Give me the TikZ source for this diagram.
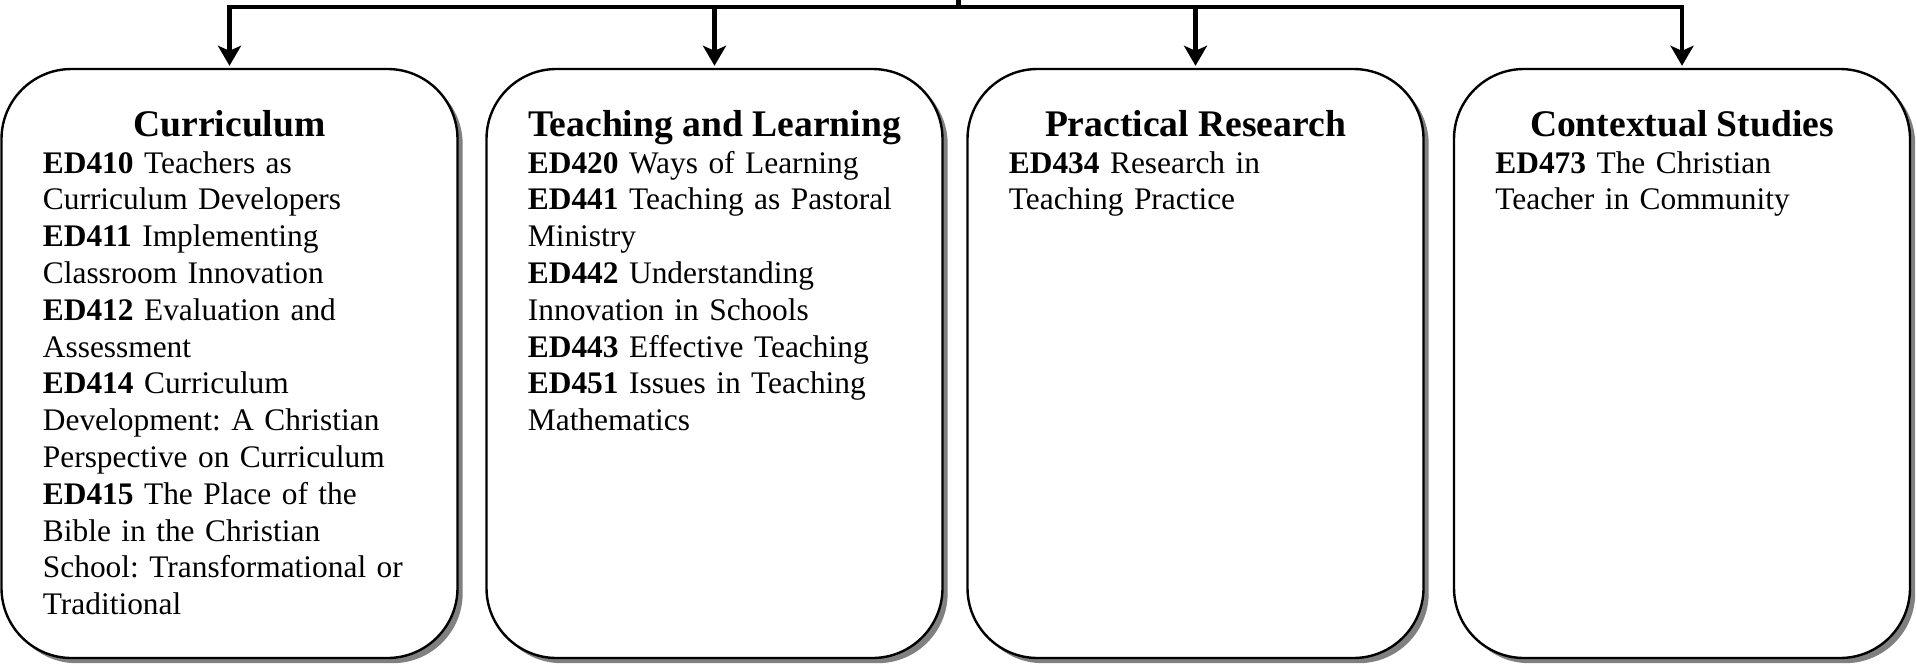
\documentclass[tikz,border=0pt]{standalone}
\usepackage{fontspec}
\setmainfont{Liberation Serif}
\frenchspacing
\usetikzlibrary{arrows.meta,shadows}
\tikzset{
  course/.style={draw=black, line width=1.2pt, fill=white, rounded corners=35pt,
    minimum width=228pt, minimum height=294.5pt, inner sep=0pt,
    drop shadow={shadow xshift=2.6pt, shadow yshift=-2.6pt, fill=black!50, opacity=1}},
  headtxt/.style={anchor=base, inner sep=0pt, font=\fontsize{18.8pt}{21pt}\selectfont\bfseries},
  bodytxt/.style={anchor=base west, inner sep=0pt, text width=200pt, align=left,
    font=\fontsize{15.7pt}{18.4pt}\selectfont\frenchspacing},
  conn/.style={line width=2.1pt},
  arr/.style={conn, -{Stealth[length=10pt,width=11.5pt,inset=2.5pt]}, shorten >=1pt}
}
\begin{document}
\begin{tikzpicture}[x=0.5pt,y=-0.5pt]
\useasboundingbox (0,0) rectangle (1917,665);

\node[course] (b1) at (229.5,363.5) {};
\node[course] (b2) at (714.5,363.5) {};
\node[course] (b3) at (1195.5,363.5) {};
\node[course] (b4) at (1682,363.5) {};

\node[headtxt] (h1) at (229.5,136) {Curriculum};
\node[headtxt] (h2) at (714.5,136) {Teaching and Learning};
\node[headtxt] (h3) at (1195.5,136) {Practical Research};
\node[headtxt] (h4) at (1682,136) {Contextual Studies};

\node[bodytxt] (t1) at (42.5,173) {\textbf{ED410} Teachers as\\Curriculum Developers\\\textbf{ED411} Implementing\\Classroom Innovation\\\textbf{ED412} Evaluation and\\Assessment\\\textbf{ED414} Curriculum\\Development: A Christian\\Perspective on Curriculum\\\textbf{ED415} The Place of the\\Bible in the Christian\\School: Transformational or\\Traditional};
\node[bodytxt] (t2) at (527.5,173) {\textbf{ED420} Ways of Learning\\\textbf{ED441} Teaching as Pastoral\\Ministry\\\textbf{ED442} Understanding\\Innovation in Schools\\\textbf{ED443} Effective Teaching\\\textbf{ED451} Issues in Teaching\\Mathematics};
\node[bodytxt] (t3) at (1008.5,173) {\textbf{ED434} Research in\\Teaching Practice};
\node[bodytxt] (t4) at (1495,173) {\textbf{ED473} The Christian\\Teacher in Community};

\coordinate (src) at (958.5,0);
\coordinate (jc) at (958.5,7);
\coordinate (j1) at (b1.north |- jc);
\coordinate (j2) at (b2.north |- jc);
\coordinate (j3) at (b3.north |- jc);
\coordinate (j4) at (b4.north |- jc);

\draw[conn] (src) -- (jc);
\draw[conn, line cap=rect] (j1) -- (j4);
\draw[arr] (j1) -- (b1.north);
\draw[arr] (j2) -- (b2.north);
\draw[arr] (j3) -- (b3.north);
\draw[arr] (j4) -- (b4.north);
\end{tikzpicture}
\end{document}
